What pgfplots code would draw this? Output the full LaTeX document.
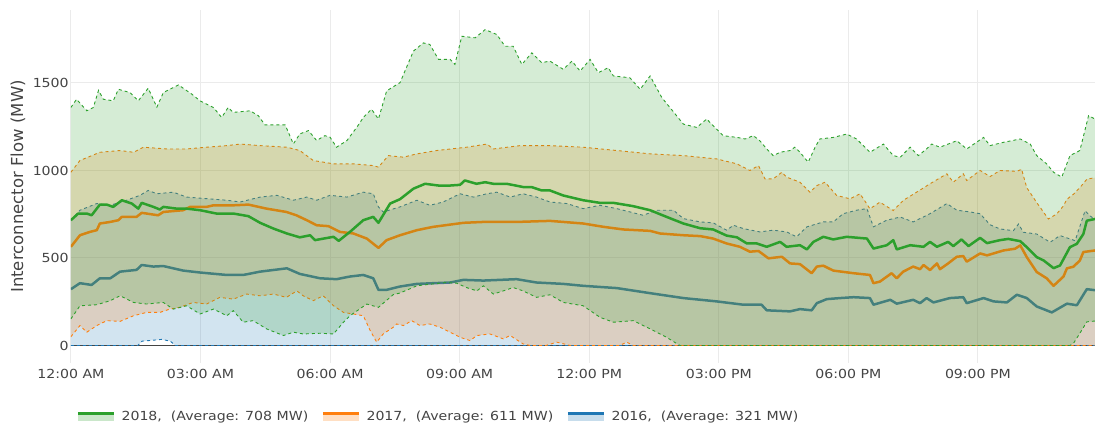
\documentclass[border=0pt]{standalone}
\usepackage{fontspec}
\setmainfont{DejaVu Sans}
\newfontfamily\tickfont[FakeStretch=1.13]{DejaVu Sans}
\usepackage{pgfplots}
\pgfplotsset{compat=1.18}
\usepgfplotslibrary{fillbetween}
\tikzset{fill between/on layer=main}
\definecolor{c18}{HTML}{2CA02C}
\definecolor{c17}{HTML}{FF7F0E}
\definecolor{c16}{HTML}{1F77B4}
\definecolor{txt}{HTML}{444444}
\definecolor{gridc}{HTML}{EBEBEB}
\begin{document}
\begin{tikzpicture}
\begin{axis}[
  scale only axis, width=1024.1bp, height=353bp,
  xmin=0, xmax=23.71, ymin=-100, ymax=1917,
  axis line style={draw=none}, major tick length=0pt,
  xtick={0,3,6,9,12,15,18,21},
  xticklabels={12:00 AM,03:00 AM,06:00 AM,09:00 AM,12:00 PM,03:00 PM,06:00 PM,09:00 PM},
  ytick={500,1000,1500}, yticklabels={500,1000,1500},
  extra y ticks={0}, extra y tick labels={0},
  extra y tick style={major grid style={color=txt, line width=1bp}},
  grid=major, major grid style={color=gridc, line width=1bp},
  tick label style={font=\tickfont\fontsize{12.5bp}{15bp}\selectfont, text=txt, inner sep=0pt},
  xticklabel style={anchor=north, yshift=-6bp},
  yticklabel style={anchor=east, xshift=-2bp},
  every axis y label/.style={at={(axis description cs:-0.0517,0.5)}, rotate=90, anchor=center, font=\fontsize{16.5bp}{20bp}\selectfont, text=txt},
  ylabel={Interconnector Flow (MW)},
  legend columns=3, reverse legend,
  legend style={at={(axis description cs:0.0057,-0.152)}, anchor=west, draw=none, fill=none, inner sep=0pt, outer sep=0pt,
    font=\tickfont\fontsize{12.5bp}{15bp}\selectfont, text=txt, nodes={inner sep=0pt},
    /tikz/every odd column/.append style={column sep=6.3bp},
    /tikz/every even column/.append style={column sep=13.4bp}},
  dashb/.style={line width=0.9bp, dash pattern=on 3bp off 3bp, forget plot},
  meanl/.style={line width=2.5bp, line join=round},
]
% ---------------- 2016 ----------------
\addplot[name path=bU, c16, dashb] coordinates {
(0,716) (0.21,773) (0.60,811) (0.91,801) (1.29,830) (1.60,858) (1.79,886) (1.99,867) (2.37,876) (2.68,848) (3.14,839) (3.61,830) (3.92,820) (4.38,848) (4.77,858) (5.15,830) (5.46,848) (5.69,830) (6.00,858) (6.39,848) (6.77,876) (7.00,867) (7.12,792) (7.23,763) (7.62,792) (8.01,830) (8.31,801) (8.62,820) (9.01,867) (9.32,848) (9.63,867) (9.86,876) (10.17,848) (10.47,867) (10.78,848) (11.09,820) (11.48,811) (11.86,782) (12.25,801) (12.64,782) (13.25,744) (13.56,773) (13.95,773) (14.18,725) (14.57,706) (14.87,701) (15.18,659) (15.34,687) (15.57,668) (15.95,649) (16.26,659) (16.57,649) (16.80,621) (17.04,678) (17.42,706) (17.65,706) (17.88,753) (18.19,773) (18.43,782) (18.58,678) (18.89,716) (19.20,734) (19.50,706) (19.89,753) (20.28,811) (20.51,773) (20.82,763) (21.05,753) (21.28,690) (21.51,666) (21.82,656) (21.94,694) (22.05,647) (22.36,637) (22.67,590) (22.90,628) (23.25,599) (23.48,770) (23.60,740) (23.71,720)};
\addplot[name path=bL, c16, dashb] coordinates {
(0,0) (1.55,0) (1.65,25) (1.9,30) (2.1,35) (2.3,25) (2.42,0) (23.71,0)};
\addplot[c16, fill opacity=0.2, draw=none, forget plot] fill between[of=bU and bL];
\addplot[c16, meanl, legend image code/.code={\path[fill=c16, fill opacity=0.25, draw=none] (0bp,-4.5bp) rectangle (36bp,2bp); \draw[c16, line width=2.5bp] (0bp,3.2bp) -- (36bp,3.2bp);}] coordinates {
(0,322) (0.21,356) (0.48,346) (0.67,384) (0.91,384) (1.14,422) (1.52,432) (1.64,460) (1.91,451) (2.14,454) (2.60,428) (2.99,417) (3.61,403) (3.99,403) (4.38,422) (5.00,441) (5.30,409) (5.77,384) (6.15,379) (6.46,394) (6.77,403) (7.00,384) (7.12,318) (7.31,318) (7.62,337) (8.01,352) (8.78,360) (9.09,375) (9.55,371) (10.32,379) (10.78,360) (11.40,352) (11.86,341) (12.64,328) (13.41,299) (14.18,271) (14.95,252) (15.57,233) (15.99,233) (16.11,201) (16.65,195) (16.88,208) (17.15,201) (17.27,242) (17.50,265) (17.81,271) (18.12,276) (18.50,271) (18.58,233) (18.97,261) (19.12,239) (19.50,261) (19.66,242) (19.81,271) (19.97,246) (20.35,271) (20.66,276) (20.74,242) (21.13,271) (21.36,252) (21.67,246) (21.90,290) (22.13,271) (22.36,223) (22.71,189) (23.06,239) (23.29,230) (23.52,322) (23.71,316)};
\addlegendentry{2016,\ \ (Average: 321 MW)}
% ---------------- 2017 ----------------
\addplot[name path=oU, c17, dashb] coordinates {
(0,990) (0.21,1057) (0.67,1104) (1.14,1114) (1.45,1104) (1.68,1133) (2.22,1123) (2.68,1123) (3.14,1133) (3.61,1142) (3.92,1151) (4.38,1142) (5.00,1133) (5.30,1114) (5.61,1057) (6.08,1038) (6.54,1038) (7.00,1028) (7.12,1019) (7.35,1085) (7.70,1076) (8.01,1095) (8.47,1114) (9.16,1133) (9.63,1151) (9.78,1123) (10.40,1142) (11.09,1142) (11.86,1133) (12.64,1114) (13.41,1095) (14.18,1085) (14.95,1066) (15.42,1038) (15.72,1000) (15.92,1028) (16.07,952) (16.26,952) (16.46,990) (16.57,962) (16.88,933) (17.11,876) (17.27,914) (17.46,933) (17.73,857) (18.04,838) (18.27,867) (18.50,781) (18.73,819) (19.04,771) (19.27,829) (19.58,876) (19.89,924) (20.28,981) (20.43,933) (20.66,981) (20.74,943) (21.05,1000) (21.28,965) (21.51,1000) (21.90,995) (22.01,1007) (22.13,902) (22.36,817) (22.63,723) (22.82,751) (22.98,798) (23.06,836) (23.21,864) (23.36,902) (23.52,950) (23.71,959)};
\addplot[name path=oL, c17, dashb] coordinates {
(0,50) (0.21,114) (0.37,76) (0.60,114) (0.83,142) (1.14,138) (1.45,170) (1.75,189) (2.06,189) (2.29,208) (2.52,218) (2.83,246) (3.14,237) (3.45,275) (3.76,265) (4.07,294) (4.38,284) (4.69,294) (4.99,275) (5.23,312) (5.38,284) (5.61,256) (5.84,284) (6.08,227) (6.31,189) (6.54,180) (6.77,170) (6.93,85) (7.08,19) (7.23,66) (7.46,104) (7.54,123) (7.70,114) (7.89,142) (8.08,114) (8.31,123) (8.55,104) (8.78,76) (9.01,47) (9.24,28) (9.40,57) (9.70,66) (10.01,38) (10.17,57) (10.47,9) (10.63,0) (11.0,0) (11.25,19) (11.56,0) (12.7,0) (12.87,19) (13.02,0) (23.71,0)};
\addplot[c17, fill opacity=0.2, draw=none, forget plot] fill between[of=oU and oL];
\addplot[c17, meanl, legend image code/.code={\path[fill=c17, fill opacity=0.25, draw=none] (0bp,-4.5bp) rectangle (36bp,2bp); \draw[c17, line width=2.5bp] (0bp,3.2bp) -- (36bp,3.2bp);}] coordinates {
(0,564) (0.21,630) (0.44,649) (0.60,659) (0.67,697) (0.91,706) (1.10,716) (1.18,735) (1.52,735) (1.64,758) (2.02,744) (2.14,763) (2.60,773) (2.76,792) (3.14,792) (3.30,801) (3.76,801) (4.11,805) (4.53,782) (4.99,763) (5.22,744) (5.46,716) (5.69,687) (5.96,682) (6.23,649) (6.54,640) (6.85,611) (7.12,558) (7.31,602) (7.62,630) (8.01,659) (8.39,678) (9.09,701) (9.55,706) (10.32,706) (11.09,712) (11.40,706) (11.86,697) (12.33,678) (12.79,663) (13.41,655) (13.64,640) (14.18,630) (14.57,625) (14.87,611) (15.18,583) (15.49,564) (15.72,536) (15.92,540) (16.15,498) (16.46,507) (16.65,469) (16.88,465) (17.15,413) (17.27,451) (17.42,456) (17.65,428) (18.12,413) (18.50,403) (18.58,356) (18.73,365) (19.00,413) (19.12,384) (19.27,422) (19.50,451) (19.66,436) (19.74,460) (19.89,431) (20.05,469) (20.12,436) (20.31,469) (20.51,507) (20.66,511) (20.74,479) (21.05,526) (21.21,515) (21.59,543) (21.86,553) (21.98,572) (22.13,505) (22.36,420) (22.59,384) (22.75,341) (22.98,394) (23.06,441) (23.21,450) (23.36,486) (23.44,534) (23.71,543)};
\addlegendentry{2017,\ \ (Average: 611 MW)}
% ---------------- 2018 ----------------
\addplot[name path=gU, c18, dashb] coordinates {
(0,1360) (0.13,1407) (0.37,1341) (0.52,1360) (0.64,1458) (0.75,1407) (0.98,1398) (1.10,1464) (1.37,1445) (1.56,1398) (1.79,1470) (1.99,1362) (2.14,1445) (2.49,1489) (2.80,1436) (2.99,1398) (3.30,1360) (3.49,1303) (3.64,1360) (3.76,1332) (4.15,1341) (4.34,1313) (4.49,1261) (4.96,1261) (5.15,1152) (5.30,1209) (5.50,1228) (5.69,1171) (5.88,1199) (6.00,1190) (6.15,1133) (6.39,1171) (6.62,1247) (6.77,1303) (6.96,1350) (7.12,1294) (7.31,1455) (7.62,1502) (7.93,1682) (8.16,1729) (8.31,1720) (8.51,1635) (8.78,1635) (8.89,1606) (9.05,1767) (9.36,1758) (9.59,1805) (9.86,1777) (10.05,1710) (10.24,1710) (10.44,1606) (10.67,1672) (10.90,1616) (11.09,1625) (11.40,1578) (11.60,1625) (11.79,1568) (12.02,1635) (12.21,1559) (12.44,1587) (12.56,1540) (12.94,1530) (13.18,1464) (13.41,1540) (13.68,1417) (14.18,1265) (14.49,1246) (14.72,1294) (14.87,1256) (15.10,1199) (15.42,1189) (15.61,1180) (15.80,1199) (15.95,1170) (16.11,1123) (16.26,1085) (16.42,1104) (16.65,1114) (16.76,1133) (16.88,1104) (17.07,1047) (17.23,1133) (17.34,1180) (17.65,1189) (17.96,1208) (18.19,1180) (18.50,1104) (18.81,1151) (19.04,1085) (19.20,1076) (19.43,1133) (19.62,1085) (19.81,1123) (19.93,1151) (20.12,1133) (20.31,1151) (20.51,1170) (20.74,1123) (21.13,1189) (21.28,1142) (21.59,1161) (21.98,1180) (22.21,1151) (22.36,1085) (22.59,1038) (22.75,990) (22.94,962) (23.13,1085) (23.36,1114) (23.56,1313) (23.71,1294)};
\addplot[name path=gL, c18, dashb] coordinates {
(0,152) (0.21,227) (0.60,233) (0.91,256) (1.14,284) (1.45,246) (1.75,237) (2.14,246) (2.37,208) (2.68,227) (2.99,180) (3.30,208) (3.61,170) (3.76,199) (3.99,133) (4.22,142) (4.53,95) (4.92,57) (5.15,76) (5.38,66) (5.77,70) (6.08,66) (6.31,133) (6.46,170) (6.85,237) (7.12,218) (7.46,290) (7.62,300) (8.01,341) (8.31,350) (8.70,360) (8.93,356) (9.16,331) (9.40,312) (9.55,341) (9.78,294) (10.01,312) (10.24,331) (10.47,312) (10.78,275) (11.09,290) (11.40,246) (11.86,227) (12.25,161) (12.56,133) (13.02,142) (13.41,95) (13.79,47) (14.10,0) (23.13,0) (23.21,12) (23.36,70) (23.52,135) (23.71,140)};
\addplot[c18, fill opacity=0.2, draw=none, forget plot] fill between[of=gU and gL];
\addplot[c18, meanl, legend image code/.code={\path[fill=c18, fill opacity=0.25, draw=none] (0bp,-4.5bp) rectangle (36bp,2bp); \draw[c18, line width=2.5bp] (0bp,3.2bp) -- (36bp,3.2bp);}] coordinates {
(0,716) (0.17,754) (0.37,754) (0.48,744) (0.67,805) (0.83,805) (0.98,792) (1.18,830) (1.41,811) (1.56,782) (1.64,815) (1.91,792) (2.06,777) (2.14,792) (2.45,782) (2.68,782) (2.99,773) (3.37,754) (3.76,754) (4.11,739) (4.38,701) (4.69,668) (5.00,640) (5.30,618) (5.54,630) (5.65,602) (6.08,621) (6.20,598) (6.46,649) (6.77,716) (7.00,735) (7.12,701) (7.39,811) (7.62,836) (7.93,896) (8.20,924) (8.51,914) (8.78,914) (9.01,918) (9.12,943) (9.39,924) (9.59,933) (9.78,924) (10.09,924) (10.48,905) (10.67,905) (10.90,886) (11.09,886) (11.40,857) (11.86,830) (12.25,815) (12.56,815) (13.02,796) (13.41,773) (13.79,735) (14.18,697) (14.57,670) (14.87,663) (15.18,628) (15.42,618) (15.65,583) (15.88,583) (16.11,564) (16.42,592) (16.57,564) (16.88,573) (17.04,549) (17.19,592) (17.42,621) (17.65,606) (17.96,621) (18.43,611) (18.58,554) (18.89,573) (19.04,602) (19.12,549) (19.43,573) (19.74,564) (19.89,592) (20.05,564) (20.31,592) (20.43,568) (20.62,606) (20.78,568) (21.05,615) (21.21,585) (21.51,602) (21.70,609) (21.98,596) (22.13,562) (22.36,505) (22.52,486) (22.75,442) (22.90,457) (23.13,562) (23.29,581) (23.44,637) (23.52,713) (23.71,723)};
\addlegendentry{2018,\ \ (Average: 708 MW)}
\end{axis}
\pgfresetboundingbox
\useasboundingbox (-70.9bp,-66bp) rectangle (1024.1bp,363bp);
\end{tikzpicture}
\end{document}
